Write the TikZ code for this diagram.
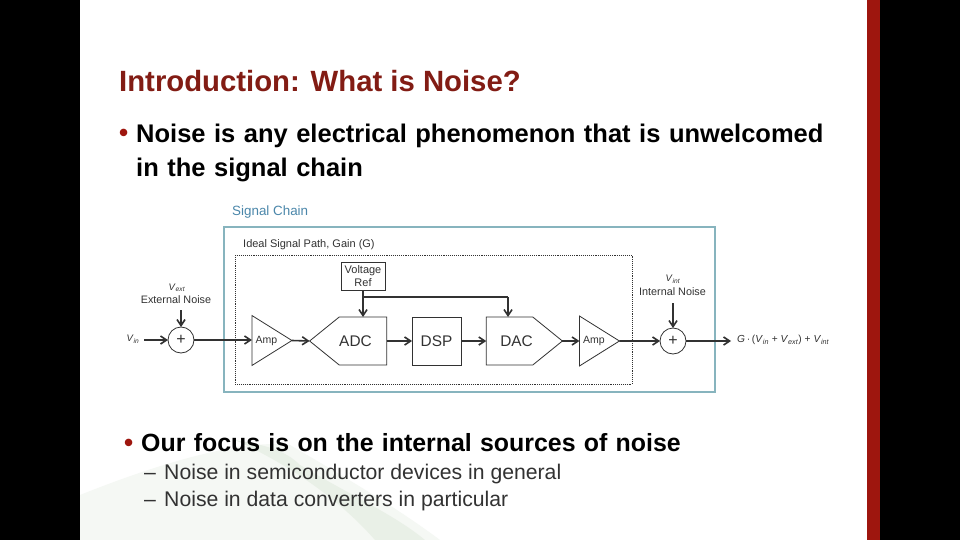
\documentclass[tikz,border=0pt]{standalone}
\usepackage{fontspec}
\setmainfont{Liberation Sans}
\usetikzlibrary{shapes.geometric,shapes.symbols,arrows.meta}
\definecolor{slidered}{RGB}{158,22,14}
\definecolor{titlered}{RGB}{130,28,20}
\definecolor{chainblue}{RGB}{75,135,170}
\definecolor{chainbox}{RGB}{135,180,190}
\definecolor{inktext}{RGB}{50,50,50}
\definecolor{swooshgreen}{RGB}{233,240,231}
\definecolor{swooshpale}{RGB}{245,248,244}
\tikzset{
	block/.style={draw=inktext,line width=0.8pt,inner sep=0,outer sep=0,text=inktext},
	ampbox/.style={block,isosceles triangle,isosceles triangle apex angle=63,isosceles triangle stretches,minimum width=50pt,minimum height=40pt,font=\fontsize{10.5}{12}\selectfont},
	adcbox/.style={block,signal,signal pointer angle=78,minimum width=75pt,minimum height=48pt,font=\fontsize{15.4}{17}\selectfont},
	sumbox/.style={block,circle,minimum size=26pt,font=\fontsize{16}{16}\selectfont},
	wire/.style={draw=inktext,line width=1.6pt,-{Straight Barb[length=6pt,width=8pt]}},
	small/.style={text=inktext,inner sep=0,align=center,font=\fontsize{10.8}{12.5}\selectfont},
	vlabel/.style={small,font=\fontsize{9.5}{11}\selectfont},
	bullet/.style={anchor=base west,inner sep=0,font=\fontsize{25.5}{31}\bfseries\selectfont,text=black,align=left,text width=720pt},
	subtext/.style={anchor=base west,inner sep=0,text=inktext,font=\fontsize{21.2}{25}\selectfont}
}
\begin{document}
\begin{tikzpicture}[x=1pt,y=-1pt]
	\useasboundingbox (0,0) rectangle (960,540);
	\fill[black] (0,0) rectangle (960,540);
	\fill[white] (80,0) rectangle (867,540);
	\fill[slidered] (867,0) rectangle (880,540);
	\fill[swooshpale] (80,495) .. controls (180,455) and (250,440) .. (290,445) .. controls (350,480) and (400,510) .. (440,540) -- (80,540) -- cycle;
	\fill[swooshgreen] (235,440) .. controls (265,445) and (285,450) .. (300,465) .. controls (350,495) and (395,515) .. (425,540) -- (375,540) .. controls (340,500) and (290,465) .. (235,440) -- cycle;
	\node[anchor=base west,inner sep=0,font=\fontsize{29.3}{35}\bfseries\selectfont,text=titlered] (title) at (119,92) {Introduction: What is Noise?};
	\node[anchor=base west,inner sep=0,font=\fontsize{26}{31}\bfseries\selectfont,text=slidered] (dot1) at (119,142) {•};
	\node[bullet] (line1) at (136,143) {Noise is any electrical phenomenon that is unwelcomed};
	\node[bullet] (line2) at (136,177) {in the signal chain};
	\draw[chainbox,line width=1.2pt] (224,227) rectangle (715,392);
	\draw[inktext,line width=0.9pt,densely dotted] (235,255) rectangle (632,384);
	\node[anchor=base west,inner sep=0,text=chainblue,font=\fontsize{13.4}{15}\selectfont] (chain) at (232,215) {Signal Chain};
	\node[small,anchor=base west,font=\fontsize{11}{13}\selectfont] (path) at (243,247) {Ideal Signal Path, Gain (G)};
	\node[block,minimum width=44pt,minimum height=28pt,align=center,font=\fontsize{11}{13}\selectfont] (vref) at (363,276) {Voltage\\Ref};
	\node[vlabel] (vin) at (133,339) {\textit{V}\textsubscript{\textit{in}}};
	\node[sumbox] (sum1) at (181,340) {+};
	\node[vlabel] (vext) at (177,288) {\textit{V}\textsubscript{\textit{ext}}};
	\node[small] (extnoise) at (176,300) {External Noise};
	\node[ampbox] (amp1) at (266.5,340.5) {Amp};
	\node[adcbox,signal to=west] (adc) at (363,341) {ADC\hspace{15pt}\mbox{}};
	\node[block,minimum width=49pt,minimum height=48pt,font=\fontsize{15.4}{17}\selectfont] (dsp) at (436.5,341) {DSP};
	\node[adcbox,signal to=east] (dac) at (509.5,341) {\hspace{14pt}DAC};
	\node[ampbox] (amp2) at (594,341) {Amp};
	\node[sumbox] (sum2) at (673,341) {+};
	\node[vlabel] (vint) at (673,279) {\textit{V}\textsubscript{\textit{int}}};
	\node[small] (intnoise) at (672.5,292) {Internal Noise};
	\node[small,anchor=west,font=\fontsize{10.2}{12}\selectfont] (vout) at (737,340) {\textit{G}\,·\,(\textit{V}\textsubscript{\textit{in}} + \textit{V}\textsubscript{\textit{ext}}) + \textit{V}\textsubscript{\textit{int}}};
	\coordinate (vinend) at (144,340);
	\coordinate (extend) at (181,310);
	\coordinate (intend) at (673,303);
	\coordinate (outend) at (731,341);
	\coordinate (tap) at (363,297);
	\coordinate (dactop) at (508,297);
	\draw[wire] (vinend) -- (sum1);
	\draw[wire] (extend) -- (sum1);
	\draw[wire] (sum1) -- (amp1.west |- sum1);
	\draw[wire] (amp1.east) -- (adc.west);
	\draw[wire] (adc.east) -- (dsp.west);
	\draw[wire] (dsp.east) -- (dac.west);
	\draw[wire] (dac.east) -- (amp2.west |- dac.east);
	\draw[wire] (amp2.east) -- (sum2);
	\draw[wire] (intend) -- (sum2);
	\draw[wire] (sum2) -- (outend);
	\draw[wire] (vref) -- (vref |- adc.north);
	\draw[inktext,line width=1.1pt] (tap) -- (dactop);
	\draw[wire] (dactop) -- (dactop |- dac.north);
	\node[anchor=base west,inner sep=0,font=\fontsize{26}{31}\bfseries\selectfont,text=slidered] (dot2) at (124,451) {•};
	\node[bullet,font=\fontsize{24.9}{31}\bfseries\selectfont] (line3) at (141,451) {Our focus is on the internal sources of noise};
	\node[subtext] (dash1) at (144,479) {–};
	\node[subtext] (sub1) at (164,479) {Noise in semiconductor devices in general};
	\node[subtext] (dash2) at (144,506) {–};
	\node[subtext] (sub2) at (164,506) {Noise in data converters in particular};
\end{tikzpicture}
\end{document}
